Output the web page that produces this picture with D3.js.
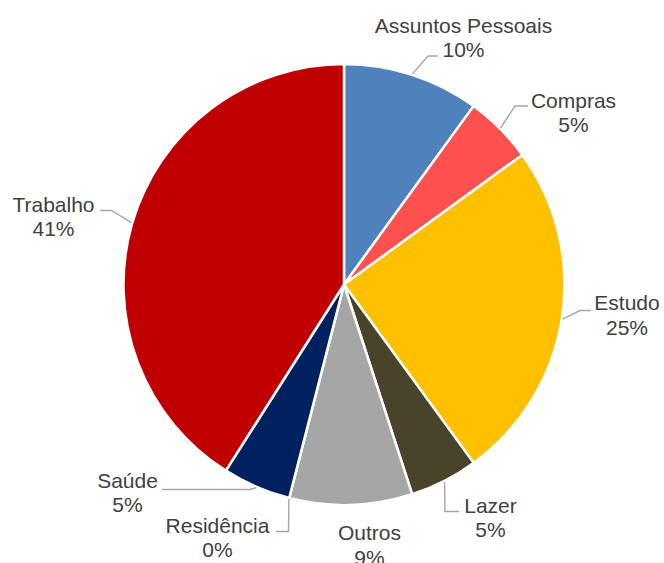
<!DOCTYPE html>
<html>
<head>
<meta charset="utf-8">
<script src="https://cdn.jsdelivr.net/npm/d3@7"></script>
<style>
  html, body { margin: 0; padding: 0; background: #fff; }
  svg { display: block; }
</style>
</head>
<body>
<svg id="chart" width="664" height="563"></svg>
<script>
// Trip purposes (share of trips, %)
const categories = ["Assuntos Pessoais", "Compras", "Estudo", "Lazer", "Outros", "Residência", "Saúde", "Trabalho"];
const values = [10, 5, 25, 5, 9, 0, 5, 41];
const colors = ["#4F81BD", "#FF5050", "#FFC000", "#494429", "#A6A6A6", "#7F7F7F", "#002060", "#C00000"];

// Label placement: text centre / first baseline, plus leader-line vertices after the slice edge
const labelLayout = [
  { x: 463.5, y: 32.5,  leader: [[428, 56], [438, 56]] },
  { x: 573.5, y: 107.5, leader: [[515, 106], [528, 106]] },
  { x: 627,   y: 310,   leader: [[580, 310.5], [591, 310.5]] },
  { x: 490.5, y: 512.5, leader: [[445, 511.5], [459, 511.5]] },
  { x: 369.5, y: 540,   leader: null },
  { x: 217.5, y: 532.5, leader: [[288.5, 531.5], [275.5, 531.5]] },
  { x: 127.5, y: 487.5, leader: [[250, 489.5], [162, 489.5]] },
  { x: 53.5,  y: 211.5, leader: [[111.5, 210.5], [100, 210.5]] }
];

const cx = 344, cy = 284.5, radius = 220.5;
const lineGap = 24.5;

const data = categories.map((c, i) => ({ name: c, value: values[i], color: colors[i], layout: labelLayout[i] }));

const svg = d3.select("#chart");
const g = svg.append("g").attr("transform", `translate(${cx},${cy})`);

const pie = d3.pie().sort(null).value(d => d.value);
const arc = d3.arc().innerRadius(0).outerRadius(radius);
const edge = d3.arc().innerRadius(radius + 1).outerRadius(radius + 1);

const arcs = pie(data);

g.selectAll("path.slice")
  .data(arcs)
  .join("path")
  .attr("class", "slice")
  .attr("d", arc)
  .attr("fill", d => d.data.color)
  .attr("stroke", "#fff")
  .attr("stroke-width", 2.5)
  .attr("stroke-linejoin", "round");

// Leader lines (absolute coordinates)
const line = d3.line();
svg.selectAll("path.leader")
  .data(arcs.filter(d => d.data.layout.leader))
  .join("path")
  .attr("class", "leader")
  .attr("d", d => {
    const [ex, ey] = edge.centroid(d);
    return line([[cx + ex, cy + ey], ...d.data.layout.leader]);
  })
  .attr("fill", "none")
  .attr("stroke", "#A6A6A6")
  .attr("stroke-width", 1.4);

// Data labels: name and percentage
const labels = svg.selectAll("text.label")
  .data(arcs)
  .join("text")
  .attr("class", "label")
  .attr("text-anchor", "middle")
  .attr("font-family", "'Liberation Sans', Arial, sans-serif")
  .attr("font-size", 21)
  .attr("fill", "#404040");

labels.append("tspan")
  .attr("x", d => d.data.layout.x)
  .attr("y", d => d.data.layout.y)
  .text(d => d.data.name);

labels.append("tspan")
  .attr("x", d => d.data.layout.x)
  .attr("y", d => d.data.layout.y + lineGap)
  .text(d => d3.format(".0f")(d.data.value) + "%");
</script>
</body>
</html>
